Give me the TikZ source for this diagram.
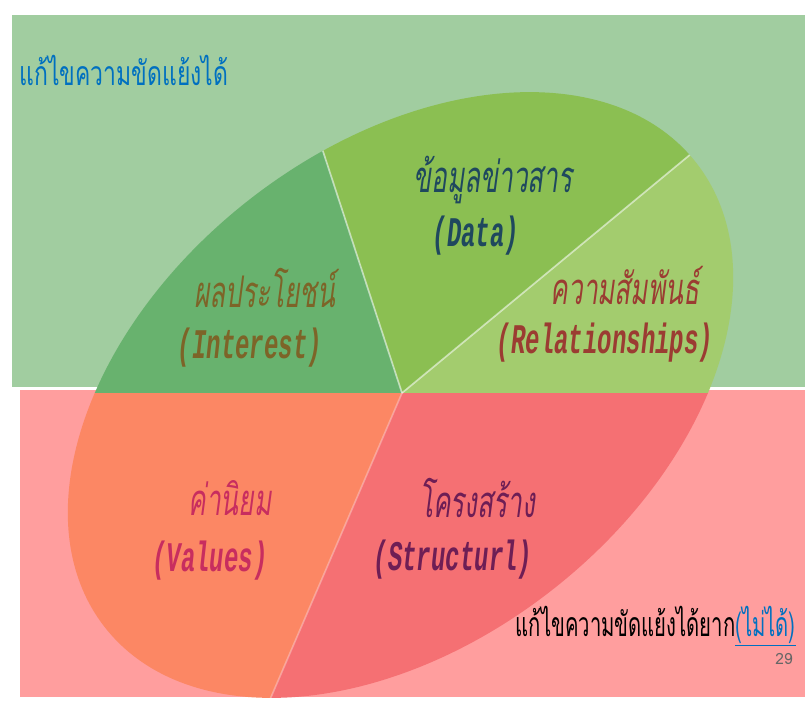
\documentclass[tikz,border=0pt]{standalone}
\usepackage{fontspec}
\usepackage{graphicx}
\newfontfamily\thaifont[Script=Thai]{Loma}
\newfontfamily\thaiit[Script=Thai,FakeSlant=0.22]{Loma}
\setmonofont{Liberation Mono}
\definecolor{greenbox}{RGB}{161,205,160}
\definecolor{pinkbox}{RGB}{255,158,158}
\definecolor{intcol}{RGB}{104,178,110}
\definecolor{datacol}{RGB}{139,191,82}
\definecolor{relcol}{RGB}{163,204,110}
\definecolor{valcol}{RGB}{252,135,100}
\definecolor{strcol}{RGB}{245,112,115}
\definecolor{titleblue}{RGB}{0,112,192}
\definecolor{datatxt}{RGB}{31,72,94}
\definecolor{inttxt}{RGB}{125,100,40}
\definecolor{reltxt}{RGB}{155,60,50}
\definecolor{valtxt}{RGB}{200,45,95}
\definecolor{strtxt}{RGB}{110,30,85}
\newcommand{\narrow}[2]{\scalebox{#1}[1]{#2}}
\begin{document}
\begin{tikzpicture}[x=0.25mm,y=0.25mm,
    thlabel/.style={inner sep=1pt,font=\thaiit\fontsize{31}{33}\selectfont},
    enlabel/.style={inner sep=1pt,font=\ttfamily\itshape\bfseries\fontsize{30}{32}\selectfont},
    sep/.style={white,opacity=0.55,line width=1.2pt}]
  \useasboundingbox (0,0) rectangle (805,704);
  \fill[greenbox] (12,317) rectangle (805,689);
  \fill[pinkbox] (20,7) rectangle (805,314);
  \coordinate (c) at (402,311);
  \begin{scope}
    \clip[rotate around={38.2:(400.5,309)}] (400.5,309) ellipse [x radius=376, y radius=247];
    \fill[relcol] (c) -- ++(0:500) arc[start angle=0, end angle=39.6, radius=500] -- cycle;
    \fill[datacol] (c) -- ++(39.6:500) arc[start angle=39.6, end angle=108.1, radius=500] -- cycle;
    \fill[intcol] (c) -- ++(108.1:500) arc[start angle=108.1, end angle=180, radius=500] -- cycle;
    \fill[valcol] (c) -- ++(180:500) arc[start angle=180, end angle=246.7, radius=500] -- cycle;
    \fill[strcol] (c) -- ++(246.7:500) arc[start angle=246.7, end angle=360, radius=500] -- cycle;
    \draw[sep] (c) -- ++(39.6:500);
    \draw[sep] (c) -- ++(108.1:500);
    \draw[sep, opacity=0.3] (c) -- ++(246.7:500);
  \end{scope}
  \node[font=\thaifont\fontsize{24}{26}\selectfont, text=titleblue] (title) at (124,634) {\narrow{0.68}{แก้ไขความขัดแย้งได้}};
  \node[thlabel, text=datatxt] (datath) at (493,524) {\narrow{0.6}{ข้อมูลข่าวสาร}};
  \node[enlabel, text=datatxt] (dataen) at (476,468) {\narrow{0.57}{(Data)}};
  \node[thlabel, text=inttxt] (intth) at (265,416) {\narrow{0.6}{ผลประโยชน์}};
  \node[enlabel, text=inttxt] (inten) at (250,356) {\narrow{0.57}{(Interest)}};
  \node[thlabel, text=reltxt] (relth) at (625,418) {\narrow{0.6}{ความสัมพันธ์}};
  \node[enlabel, text=reltxt] (relen) at (605,361) {\narrow{0.57}{(Relationships)}};
  \node[thlabel, text=valtxt] (valth) at (230,206) {\narrow{0.6}{ค่านิยม}};
  \node[enlabel, text=valtxt] (valen) at (210,143) {\narrow{0.57}{(Values)}};
  \node[thlabel, text=strtxt] (strth) at (477,206) {\narrow{0.6}{โครงสร้าง}};
  \node[enlabel, text=strtxt] (stren) at (453,144) {\narrow{0.57}{(Structurl)}};
  \node[font=\thaifont\fontsize{24}{26}\selectfont, anchor=east, inner sep=0pt] (hard) at (796,78) {\narrow{0.6}{แก้ไขความขัดแย้งได้ยาก\textcolor{titleblue}{\underline{(ไม่ได้)}}}};
  \node[font=\thaifont\fontsize{11}{12}\selectfont, text=black!60] (page) at (784,45) {29};
\end{tikzpicture}
\end{document}
